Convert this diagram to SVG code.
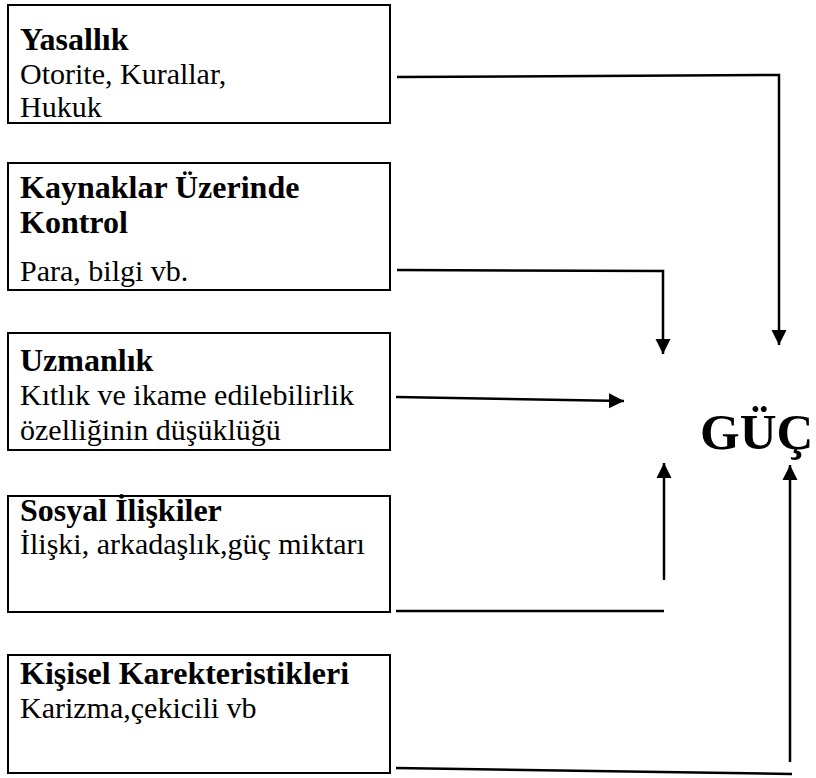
<svg xmlns="http://www.w3.org/2000/svg" width="816" height="778" viewBox="0 0 816 778">
<style>
.box{fill:#fff;stroke:#000;stroke-width:2}
.t{font-family:"Liberation Serif","Times New Roman",serif;font-size:30px;fill:#000}
.b{font-weight:bold;font-size:32px}
.g{font-weight:bold;font-size:51px}
.c{fill:none;stroke:#000;stroke-width:2.5}
</style>
<defs>
<marker id="ah" viewBox="0 0 10 10" refX="10" refY="5" markerWidth="6" markerHeight="7" markerUnits="strokeWidth" orient="auto">
<path d="M0,0 L10,5 L0,10 z" fill="#000"/>
</marker>
</defs>
<rect width="816" height="778" fill="#fff"/>
<g id="n1">
<rect class="box" x="8" y="5" width="382" height="118"/>
<text class="t b" x="20" y="50">Yasallık</text>
<text class="t" x="20" y="84">Otorite, Kurallar,</text>
<text class="t" x="20" y="117">Hukuk</text>
</g>
<g id="n2">
<rect class="box" x="8" y="163" width="382" height="127"/>
<text class="t b" x="20" y="198">Kaynaklar Üzerinde</text>
<text class="t b" x="20" y="233">Kontrol</text>
<text class="t" x="20" y="281">Para, bilgi vb.</text>
</g>
<g id="n3">
<rect class="box" x="8" y="333" width="382" height="117"/>
<text class="t b" x="20" y="371">Uzmanlık</text>
<text class="t" x="20" y="405">Kıtlık ve ikame edilebilirlik</text>
<text class="t" x="20" y="440">özelliğinin düşüklüğü</text>
</g>
<g id="n4">
<rect class="box" x="8" y="496" width="382" height="116"/>
<text class="t b" x="20" y="521">Sosyal İlişkiler</text>
<text class="t" x="20" y="554">İlişki, arkadaşlık,güç miktarı</text>
</g>
<g id="n5">
<rect class="box" x="8" y="655" width="382" height="118"/>
<text class="t b" x="20" y="684">Kişisel Karekteristikleri</text>
<text class="t" x="20" y="718">Karizma,çekicili vb</text>
</g>
<g id="guc">
<text class="t g" x="700" y="449">GÜÇ</text>
</g>
<g id="connectors">
<polyline class="c" points="397,77 779,75 779,345" marker-end="url(#ah)"/>
<polyline class="c" points="397,270 663,271 663,354" marker-end="url(#ah)"/>
<line class="c" x1="396" y1="397" x2="624" y2="401" marker-end="url(#ah)"/>
<line class="c" x1="396" y1="611" x2="664" y2="611"/>
<line class="c" x1="664" y1="580" x2="664" y2="463" marker-end="url(#ah)"/>
<line class="c" x1="396" y1="768" x2="792" y2="774"/>
<line class="c" x1="790" y1="762" x2="790" y2="465" marker-end="url(#ah)"/>
</g>
</svg>
